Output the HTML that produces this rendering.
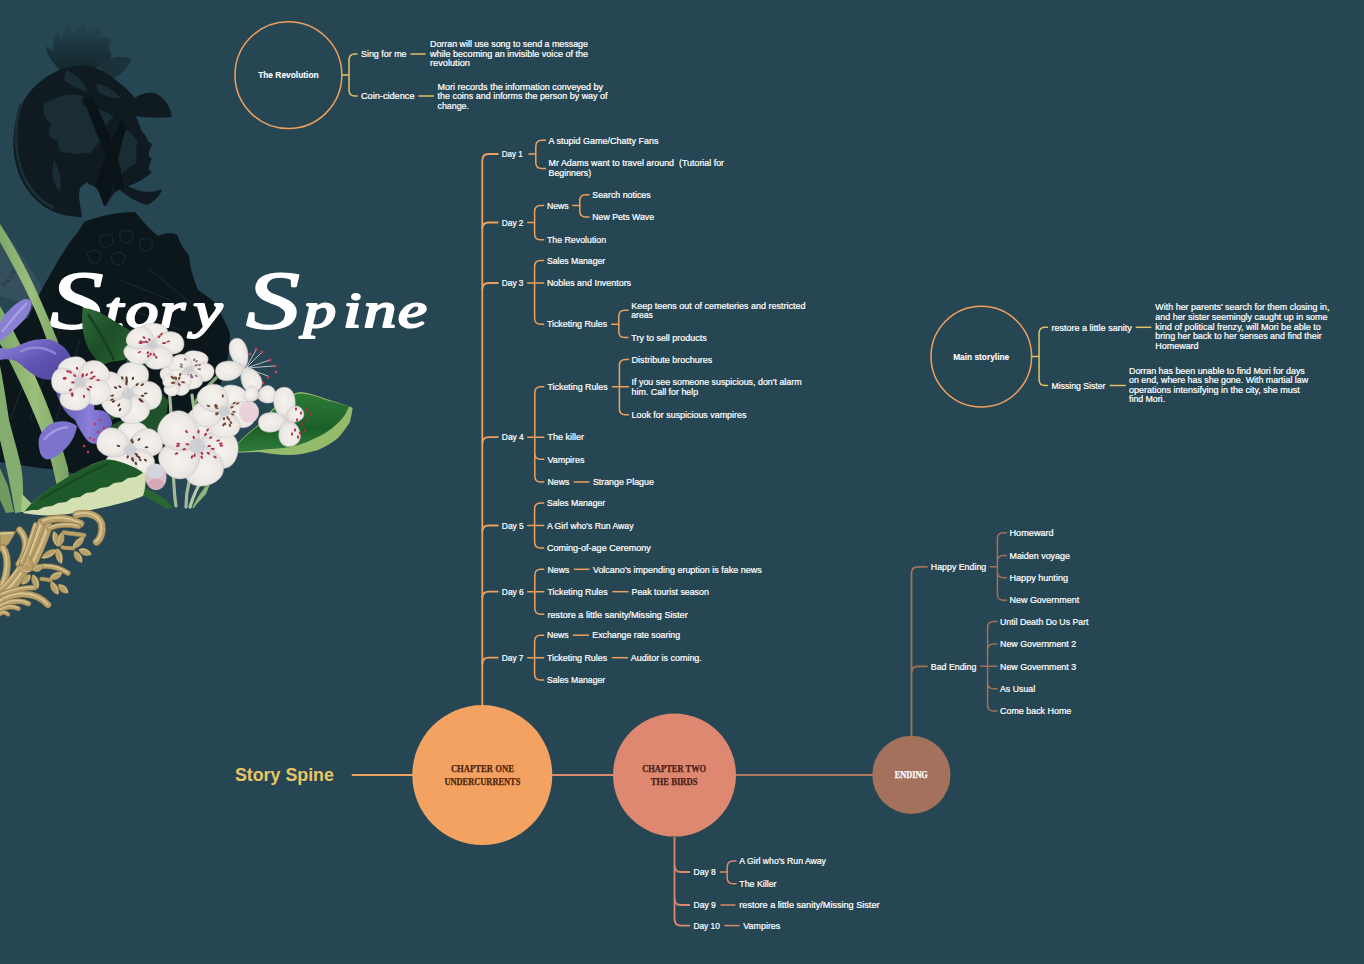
<!DOCTYPE html>
<html lang="en">
<head>
<meta charset="utf-8">
<title>Story Spine</title>
<style>
html,body{margin:0;padding:0;background:#264653;}
body{width:1364px;height:964px;overflow:hidden;font-family:"Liberation Sans",sans-serif;}
svg{display:block}
.t{font-family:"Liberation Sans",sans-serif;font-size:8.7px;fill:#fff;stroke:#fff;stroke-width:.22px;}
.b{stroke-width:.1px}
.c{font-family:"Liberation Serif",serif;font-weight:700;stroke-width:.25px}
.h{font-family:"Liberation Sans",sans-serif;font-weight:700;stroke:none}
.title{font-family:"Liberation Serif",serif;font-style:italic;fill:#fff}
</style>
</head>
<body>
<svg width="1364" height="964" viewBox="0 0 1364 964">
<rect width="1364" height="964" fill="#264653"/>
<defs><radialGradient id="pg" cx="50%" cy="40%" r="65%"><stop offset="0" stop-color="#f6f3ee"/><stop offset=".6" stop-color="#ece8e3"/><stop offset="1" stop-color="#cfcdd0"/></radialGradient><linearGradient id="lf1" x1="0" y1="0" x2="1" y2="1"><stop offset="0" stop-color="#2f6a3a"/><stop offset=".5" stop-color="#1d4f29"/><stop offset="1" stop-color="#2a6434"/></linearGradient><linearGradient id="lf2" x1="0" y1="0" x2="0" y2="1"><stop offset="0" stop-color="#2c7a36"/><stop offset=".6" stop-color="#1b5f28"/><stop offset="1" stop-color="#2f7c3a"/></linearGradient><linearGradient id="ir1" x1="0" y1="0" x2="1" y2="1"><stop offset="0" stop-color="#8f86d8"/><stop offset=".5" stop-color="#6155b5"/><stop offset="1" stop-color="#4d4299"/></linearGradient><linearGradient id="ir2" x1="0" y1="0" x2="1" y2="0"><stop offset="0" stop-color="#5e52b0"/><stop offset=".6" stop-color="#8a80d8"/><stop offset="1" stop-color="#6a5fc0"/></linearGradient><linearGradient id="bl" x1="0" y1="0" x2="1" y2="0"><stop offset="0" stop-color="#7fa86a"/><stop offset=".5" stop-color="#9bbf7c"/><stop offset="1" stop-color="#7aa264"/></linearGradient><linearGradient id="gd" x1="0" y1="0" x2="1" y2="1"><stop offset="0" stop-color="#d2bd8a"/><stop offset=".5" stop-color="#b49a64"/><stop offset="1" stop-color="#9a8250"/></linearGradient><linearGradient id="ft" x1="0" y1="0" x2="0" y2="1"><stop offset="0" stop-color="#22414c" stop-opacity=".3"/><stop offset=".5" stop-color="#1a323b" stop-opacity=".9"/><stop offset="1" stop-color="#14262d"/></linearGradient></defs>
<path d="M0 236L14 244L30 268L46 294L34 306L0 296Z" fill="#35505d"/>
<text x="5" y="287" font-family="Liberation Serif,serif" font-size="6.5" fill="#1c2f38" transform="rotate(-52 5 287)" letter-spacing=".8">FASHION</text>
<path d="M60 70C52 62 46 54 46 46L54 52C52 44 54 36 57 30L62 40C62 32 66 26 70 23L73 34C76 28 82 24 86 22L87 32C92 28 98 27 102 29L100 38C106 36 110 38 112 40L108 48C112 50 112 56 110 60C104 66 92 70 80 72Z" fill="url(#ft)"/>
<path d="M98 66C106 58 120 54 131 59C128 68 120 76 110 80Z" fill="#1b323b"/>
<path d="M66 68C50 72 34 84 24 100C14 118 11 140 15 160C19 182 32 200 50 210C60 215 72 217 82 217L79 198C78 190 82 184 88 182L96 212L101 214L112 196L118 188C126 196 140 204 148 205C156 200 161 194 162 189C150 194 138 192 128 186C136 184 146 178 152 172C146 170 150 164 152 158C146 158 150 150 152 144C146 142 148 136 142 132C140 126 138 122 136 116C146 118 160 118 172 117C170 106 164 96 154 93C146 92 140 94 135 98C130 92 124 86 118 82C112 76 100 68 88 66C80 65 72 66 66 68Z" fill="#0f1b21"/>
<g fill="#1a2d34"><path d="M44 104C56 96 72 92 84 96C78 104 86 110 92 104C98 112 108 110 114 118C104 120 110 130 100 132C104 142 94 146 90 154C82 150 76 158 70 152C62 156 56 148 58 140C48 140 46 130 52 124C44 120 42 110 44 104Z"/><path d="M96 84C104 84 114 90 120 98C112 98 104 96 98 92Z"/><path d="M54 160C60 170 62 182 60 192C54 186 50 174 54 160Z"/><path d="M118 126C126 128 134 134 138 142C134 150 138 156 136 164C128 166 124 174 118 176C116 160 114 142 118 126Z"/><path d="M66 70C76 74 84 82 88 92C80 90 72 86 64 80Z"/></g>
<path d="M21 104C14 124 14 150 22 172C28 188 40 202 54 208" stroke="#1a2e35" stroke-width="3" fill="none"/>
<path d="M84 98L92 96C100 112 112 140 120 166L124 186L116 192C112 172 104 150 96 132C92 120 86 108 84 98Z" fill="#091318"/>
<path d="M122 118L112 140C106 156 98 176 94 190L98 212L110 196C114 176 120 150 126 128Z" fill="#091318"/>
<path d="M80 188C86 182 94 184 98 190L104 206C112 208 120 212 126 214L86 222C84 210 79 198 80 188Z" fill="#2a4956"/>
<path d="M84 222C98 216 118 212 135 212C142 220 150 230 158 236C166 232 174 232 178 236C180 246 186 250 189 256C190 268 194 280 198 290C206 296 214 300 218 306C222 318 228 326 230 334C230 346 228 356 226 366L216 400L170 470L100 480L60 470L40 468L0 462L0 330C10 326 20 322 28 318C34 304 40 292 46 282C56 264 66 246 78 232Z" fill="#0c171c"/>
<g stroke="#17292f" stroke-width="1.2" fill="none"><path d="M100 236C108 232 116 236 112 244C106 250 98 246 100 236Z"/><path d="M120 232C128 228 136 232 132 240C126 246 118 242 120 232Z"/><path d="M140 240C148 236 154 240 152 248C146 254 138 250 140 240Z"/><path d="M88 252C96 248 104 252 100 260C94 266 86 262 88 252Z"/><path d="M112 254C120 250 128 254 124 262C118 268 110 264 112 254Z"/><path d="M120 280L170 300M110 300L180 330M150 270L200 310M60 330L30 420M80 340L50 440M40 340L10 420"/></g>
<text class="title" transform="scale(1.3 1)" stroke="#fff" stroke-linejoin="round"><tspan font-size="83" stroke-width="1.8" x="38" y="327.6">S</tspan><tspan font-size="50" stroke-width="2.2" y="326.6" x="80.7 96.7 122.9 148.9">tory</tspan><tspan font-size="50"> </tspan><tspan font-size="83" stroke-width="1.8" x="189.2" y="327.6">S</tspan><tspan font-size="50" stroke-width="2.2" y="326.6" x="233.5 264.1 279.9 306.1">pine</tspan></text>
<path d="M0 224C12 242 26 268 36 290C44 308 52 326 58 342L62 356L52 356C48 342 42 326 36 312C28 294 16 270 0 242Z" fill="url(#bl)"/>
<path d="M0 306C6 316 12 328 18 340C28 360 38 382 46 402C54 422 62 446 68 468L70 490L58 492C54 470 48 448 40 428C32 408 22 386 12 366C8 358 4 350 0 344Z" fill="url(#bl)"/>
<path d="M0 366C3 380 6 400 9 420C13 436 18 452 21 466C23 478 24 492 22 512L15 513C13 500 11 490 9 480C6 466 3 452 0 440Z" fill="#86ad70"/>
<path d="M0 468L8 486L14 512L6 513L0 500Z" fill="#6f9a60"/>
<path d="M22 494L32 504L24 512L21 512Z" fill="#a6c882"/>
<path d="M0 323C4 314 12 306 22 300C26 298 30 299 31.5 302C32 308 28 316 22 322C14 330 6 338 0 341Z" fill="#8a81d4"/>
<path d="M2 332C10 322 18 312 27 303" stroke="#aaa2e4" stroke-width="2" fill="none"/>
<path d="M0 348C6 349.5 12 349 20 345C28 341 36 339 46 339C56 340 64 346 68 352C72 358 74 364 73 368C70 374 64 377 56 379C48 381 40 379 34 375C28 371 22 365 16 361C10 359 4 359 0 360Z" fill="url(#ir1)"/>
<path d="M20 352C30 346 44 346 56 354" stroke="#9a91de" stroke-width="2.5" fill="none" opacity=".8"/>
<path d="M39 438C42 430 48 424 56 422C64 420 72 422 77 426C76 434 72 442 66 448C60 454 54 459 47 459.5C42 458 40 454 39.5 450C38.5 446 38.5 442 39 438Z" fill="#7c73cc"/>
<path d="M44 440C50 432 58 428 68 427" stroke="#a098e2" stroke-width="2.5" fill="none"/>
<path d="M55 388C60 394 64 400 69 404C74 407 78 408 83 408C88 405 91 400 92.6 396C94 400 94 406 94.5 410C98 410 102 410 106 412C110 415 112 420 112 424C112 430 110 436 106 440C102 443 98 444 92.6 443.6C88 442 85 438 82.7 434C80 430 77 425 75 420C70 417 66 413 63 408C60 402 56 394 55 388Z" fill="url(#ir2)"/>
<g fill="#c23a55"><circle cx="95" cy="424" r="1.3"/><circle cx="100" cy="420" r="1.3"/><circle cx="104" cy="428" r="1.3"/><circle cx="98" cy="432" r="1.3"/><circle cx="90" cy="438" r="1.3"/><circle cx="84" cy="446" r="1.3"/><circle cx="88" cy="452" r="1.3"/><circle cx="94" cy="440" r="1.3"/></g>
<path d="M82.7 307.7L90 309L98.5 311.7L108 317L118 323.5L126 328L131 331L131 355L124 360L110 362L100 366L97 361L92 354L88.6 349L85 340L82.7 329.4L82 318Z" fill="url(#lf1)"/>
<path d="M88 314C96 326 106 342 114 360" stroke="#174020" stroke-width="2.5" fill="none"/>
<path d="M128 352L140 350L146 366L150 384L160 392L168 400L166 426L156 432L140 424L124 412L112 420L106 410L118 400Z" fill="#20522b"/>
<path d="M110 426L122 420L130 428L118 436Z" fill="#20522b"/>
<path d="M229.5 453C238 442 248 432 259 424.6C266 416 272 409 279 403C286 397 293 393 300.5 392C310 393 318 396 326 399C336 402 346 405 352.7 407.8C352 413 351 418 349.7 422.6C346 428 342 434 338 438C332 443 325 447 318 450C308 453 298 455 288.6 455C278 455 268 453 259 452C249 452 239 453 229.5 453Z" fill="#94bb6a"/>
<path d="M231 452C240 441 249 432 260 425C267 417 273 410 280 404C287 398.5 294 394 300.5 393.5C310 394 318 397 326 400C334 402 342 404 349 406.5C347 412 344 417 340 421C334 427 328 432 320 436C310 441 300 445 290 447C280 448.5 270 449 260 450C250 451 240 452 231 452Z" fill="url(#lf2)"/>
<g stroke="#a5bb98" stroke-width="3.2" fill="none" stroke-linecap="round"><path d="M173 470C174 482 174 494 176 506"/><path d="M189 482C187 490 186 498 186 507"/><path d="M204 476C198 486 193 496 190 507" stroke="#b5c8a6"/><path d="M169 389C170 398 171 408 171 418"/><path d="M192 395C193 402 194 410 195 416"/><path d="M216 378C208 386 200 394 195 403" stroke="#86a878"/></g>
<path d="M231 452C222 462 212 476 204 490C200 496 196 502 193 508" stroke="#6f9a5c" stroke-width="2.2" fill="none"/>
<path d="M193 508C196 498 202 490 210 484L206 494Z" fill="#8db57a"/>
<path d="M132 486C144 486 156 492 166 500C170 503 172 506 173 508L166 509C158 503 148 498 140 494C136 492 134 489 132 486Z" fill="#2a6632"/>
<g transform="translate(197 446) scale(1 0.95)"><path d="M0 0C14.2 -2.1 25.4 -22.7 17.3 -35.1C11.2 -44.6 -10.2 -45.4 -17.3 -33.9C-25.4 -20.6 -14.2 -2.1 0 0Z" fill="url(#pg)" stroke="#cbc6c6" stroke-width=".5" transform="rotate(19)"/><path d="M0 0C14.2 -2.0 25.4 -22.2 17.3 -34.3C11.2 -43.6 -10.2 -44.4 -17.3 -33.1C-25.4 -20.2 -14.2 -2.0 0 0Z" fill="url(#pg)" stroke="#cbc6c6" stroke-width=".5" transform="rotate(99)"/><path d="M0 0C14.2 -2.1 25.4 -22.9 17.3 -35.3C11.2 -44.9 -10.2 -45.7 -17.3 -34.1C-25.4 -20.8 -14.2 -2.1 0 0Z" fill="url(#pg)" stroke="#cbc6c6" stroke-width=".5" transform="rotate(164)"/><path d="M0 0C14.2 -2.0 25.4 -22.4 17.3 -34.7C11.2 -44.1 -10.2 -44.9 -17.3 -33.5C-25.4 -20.4 -14.2 -2.0 0 0Z" fill="url(#pg)" stroke="#cbc6c6" stroke-width=".5" transform="rotate(231)"/><path d="M0 0C14.2 -2.2 25.4 -24.0 17.3 -37.0C11.2 -47.0 -10.2 -47.9 -17.3 -35.7C-25.4 -21.8 -14.2 -2.2 0 0Z" fill="url(#pg)" stroke="#cbc6c6" stroke-width=".5" transform="rotate(310)"/><circle r="8.1" fill="#c9ccd2" opacity=".7"/><ellipse cx="11.3" cy="7.6" rx="1.1" ry="1.9" fill="#b32d4b" transform="rotate(124 11.3 7.6)"/><ellipse cx="18.1" cy="11.6" rx="1.1" ry="1.9" fill="#b32d4b" transform="rotate(123 18.1 11.6)"/><ellipse cx="-3.3" cy="-9.0" rx="1.1" ry="1.9" fill="#b32d4b" transform="rotate(340 -3.3 -9.0)"/><ellipse cx="23.7" cy="-2.7" rx="1.1" ry="1.9" fill="#b32d4b" transform="rotate(444 23.7 -2.7)"/><ellipse cx="-10.5" cy="-15.2" rx="1.1" ry="1.9" fill="#b32d4b" transform="rotate(325 -10.5 -15.2)"/><ellipse cx="5.0" cy="7.7" rx="1.1" ry="1.9" fill="#b32d4b" transform="rotate(147 5.0 7.7)"/><ellipse cx="-9.7" cy="-1.8" rx="1.1" ry="1.9" fill="#b32d4b" transform="rotate(280 -9.7 -1.8)"/><ellipse cx="4.7" cy="11.8" rx="1.1" ry="1.9" fill="#b32d4b" transform="rotate(158 4.7 11.8)"/><ellipse cx="15.8" cy="3.0" rx="1.1" ry="1.9" fill="#b32d4b" transform="rotate(101 15.8 3.0)"/><ellipse cx="-20.5" cy="8.0" rx="1.1" ry="1.9" fill="#b32d4b" transform="rotate(249 -20.5 8.0)"/><ellipse cx="-18.7" cy="-2.3" rx="1.1" ry="1.9" fill="#b32d4b" transform="rotate(277 -18.7 -2.3)"/><ellipse cx="-19.2" cy="0.0" rx="1.1" ry="1.9" fill="#b32d4b" transform="rotate(270 -19.2 0.0)"/><ellipse cx="-12.8" cy="3.5" rx="1.1" ry="1.9" fill="#b32d4b" transform="rotate(255 -12.8 3.5)"/><ellipse cx="24.4" cy="-0.4" rx="1.1" ry="1.9" fill="#b32d4b" transform="rotate(449 24.4 -0.4)"/><ellipse cx="10.7" cy="-16.8" rx="1.1" ry="1.9" fill="#b32d4b" transform="rotate(392 10.7 -16.8)"/><ellipse cx="-5.0" cy="11.5" rx="1.1" ry="1.9" fill="#b32d4b" transform="rotate(203 -5.0 11.5)"/><ellipse cx="-2.4" cy="9.7" rx="1.1" ry="1.9" fill="#b32d4b" transform="rotate(194 -2.4 9.7)"/><ellipse cx="1.5" cy="-15.1" rx="1.1" ry="1.9" fill="#b32d4b" transform="rotate(366 1.5 -15.1)"/><ellipse cx="8.5" cy="-12.3" rx="1.1" ry="1.9" fill="#b32d4b" transform="rotate(395 8.5 -12.3)"/><ellipse cx="21.3" cy="-5.7" rx="1.1" ry="1.9" fill="#b32d4b" transform="rotate(435 21.3 -5.7)"/><ellipse cx="12.2" cy="0.0" rx="1.1" ry="1.9" fill="#b32d4b" transform="rotate(90 12.2 0.0)"/><ellipse cx="13.7" cy="-8.7" rx="1.1" ry="1.9" fill="#b32d4b" transform="rotate(418 13.7 -8.7)"/></g>
<g transform="translate(130 450) scale(1 0.9)"><path d="M0 0C11.2 -1.6 19.9 -17.1 13.6 -26.4C8.8 -33.6 -8.0 -34.2 -13.6 -25.5C-19.9 -15.6 -11.2 -1.6 0 0Z" fill="url(#pg)" stroke="#cbc6c6" stroke-width=".5" transform="rotate(8)"/><path d="M0 0C11.2 -1.6 19.9 -18.1 13.6 -28.0C8.8 -35.5 -8.0 -36.2 -13.6 -27.0C-19.9 -16.4 -11.2 -1.6 0 0Z" fill="url(#pg)" stroke="#cbc6c6" stroke-width=".5" transform="rotate(65)"/><path d="M0 0C11.2 -1.5 19.9 -16.6 13.6 -25.6C8.8 -32.5 -8.0 -33.2 -13.6 -24.7C-19.9 -15.1 -11.2 -1.5 0 0Z" fill="url(#pg)" stroke="#cbc6c6" stroke-width=".5" transform="rotate(148)"/><path d="M0 0C11.2 -1.5 19.9 -16.8 13.6 -26.0C8.8 -33.1 -8.0 -33.7 -13.6 -25.1C-19.9 -15.3 -11.2 -1.5 0 0Z" fill="url(#pg)" stroke="#cbc6c6" stroke-width=".5" transform="rotate(209)"/><path d="M0 0C11.2 -1.7 19.9 -18.6 13.6 -28.8C8.8 -36.6 -8.0 -37.3 -13.6 -27.8C-19.9 -16.9 -11.2 -1.7 0 0Z" fill="url(#pg)" stroke="#cbc6c6" stroke-width=".5" transform="rotate(295)"/><circle r="6.4" fill="#c9ccd2" opacity=".7"/><ellipse cx="7.4" cy="6.8" rx="1.1" ry="1.9" fill="#5e3a30" transform="rotate(132 7.4 6.8)"/><ellipse cx="6.2" cy="4.6" rx="1.1" ry="1.9" fill="#5e3a30" transform="rotate(126 6.2 4.6)"/><ellipse cx="2.7" cy="-8.8" rx="1.1" ry="1.9" fill="#5e3a30" transform="rotate(377 2.7 -8.8)"/><ellipse cx="-11.6" cy="-4.5" rx="1.1" ry="1.9" fill="#5e3a30" transform="rotate(291 -11.6 -4.5)"/><ellipse cx="5.8" cy="14.8" rx="1.1" ry="1.9" fill="#5e3a30" transform="rotate(159 5.8 14.8)"/><ellipse cx="10.1" cy="10.9" rx="1.1" ry="1.9" fill="#5e3a30" transform="rotate(137 10.1 10.9)"/><ellipse cx="9.0" cy="8.1" rx="1.1" ry="1.9" fill="#5e3a30" transform="rotate(132 9.0 8.1)"/><ellipse cx="2.4" cy="10.0" rx="1.1" ry="1.9" fill="#5e3a30" transform="rotate(167 2.4 10.0)"/><ellipse cx="16.5" cy="-3.0" rx="1.1" ry="1.9" fill="#5e3a30" transform="rotate(440 16.5 -3.0)"/><ellipse cx="-5.9" cy="16.7" rx="1.1" ry="1.9" fill="#5e3a30" transform="rotate(199 -5.9 16.7)"/><ellipse cx="2.9" cy="11.4" rx="1.1" ry="1.9" fill="#5e3a30" transform="rotate(166 2.9 11.4)"/><ellipse cx="9.0" cy="-11.7" rx="1.1" ry="1.9" fill="#5e3a30" transform="rotate(398 9.0 -11.7)"/><ellipse cx="15.4" cy="11.2" rx="1.1" ry="1.9" fill="#5e3a30" transform="rotate(126 15.4 11.2)"/><ellipse cx="2.3" cy="9.9" rx="1.1" ry="1.9" fill="#5e3a30" transform="rotate(167 2.3 9.9)"/><ellipse cx="1.6" cy="-10.9" rx="1.1" ry="1.9" fill="#5e3a30" transform="rotate(368 1.6 -10.9)"/><ellipse cx="-2.3" cy="7.6" rx="1.1" ry="1.9" fill="#5e3a30" transform="rotate(197 -2.3 7.6)"/></g>
<g transform="translate(224 411) scale(1 0.85)"><path d="M0 0C10.8 -1.6 19.3 -17.3 13.1 -26.7C8.5 -33.9 -7.7 -34.6 -13.1 -25.8C-19.3 -15.7 -10.8 -1.6 0 0Z" fill="url(#pg)" stroke="#cbc6c6" stroke-width=".5" transform="rotate(28)"/><path d="M0 0C10.8 -1.6 19.3 -17.4 13.1 -26.8C8.5 -34.1 -7.7 -34.7 -13.1 -25.9C-19.3 -15.8 -10.8 -1.6 0 0Z" fill="url(#pg)" stroke="#cbc6c6" stroke-width=".5" transform="rotate(103)"/><path d="M0 0C10.8 -1.5 19.3 -16.7 13.1 -25.9C8.5 -32.9 -7.7 -33.5 -13.1 -25.0C-19.3 -15.2 -10.8 -1.5 0 0Z" fill="url(#pg)" stroke="#cbc6c6" stroke-width=".5" transform="rotate(177)"/><path d="M0 0C10.8 -1.5 19.3 -16.9 13.1 -26.1C8.5 -33.1 -7.7 -33.7 -13.1 -25.2C-19.3 -15.3 -10.8 -1.5 0 0Z" fill="url(#pg)" stroke="#cbc6c6" stroke-width=".5" transform="rotate(258)"/><path d="M0 0C10.8 -1.7 19.3 -18.4 13.1 -28.5C8.5 -36.2 -7.7 -36.9 -13.1 -27.5C-19.3 -16.8 -10.8 -1.7 0 0Z" fill="url(#pg)" stroke="#cbc6c6" stroke-width=".5" transform="rotate(324)"/><circle r="6.2" fill="#c9ccd2" opacity=".7"/><ellipse cx="3.5" cy="7.8" rx="1.1" ry="1.9" fill="#7a4a36" transform="rotate(156 3.5 7.8)"/><ellipse cx="13.7" cy="-8.9" rx="1.1" ry="1.9" fill="#7a4a36" transform="rotate(417 13.7 -8.9)"/><ellipse cx="0.0" cy="9.0" rx="1.1" ry="1.9" fill="#7a4a36" transform="rotate(180 0.0 9.0)"/><ellipse cx="-1.2" cy="-17.7" rx="1.1" ry="1.9" fill="#7a4a36" transform="rotate(356 -1.2 -17.7)"/><ellipse cx="5.9" cy="16.9" rx="1.1" ry="1.9" fill="#7a4a36" transform="rotate(161 5.9 16.9)"/><ellipse cx="10.2" cy="-9.3" rx="1.1" ry="1.9" fill="#7a4a36" transform="rotate(408 10.2 -9.3)"/><ellipse cx="-7.0" cy="3.8" rx="1.1" ry="1.9" fill="#7a4a36" transform="rotate(242 -7.0 3.8)"/><ellipse cx="17.5" cy="4.3" rx="1.1" ry="1.9" fill="#7a4a36" transform="rotate(104 17.5 4.3)"/><ellipse cx="1.1" cy="15.0" rx="1.1" ry="1.9" fill="#7a4a36" transform="rotate(176 1.1 15.0)"/><ellipse cx="-0.7" cy="16.4" rx="1.1" ry="1.9" fill="#7a4a36" transform="rotate(183 -0.7 16.4)"/><ellipse cx="-8.4" cy="-5.8" rx="1.1" ry="1.9" fill="#7a4a36" transform="rotate(305 -8.4 -5.8)"/><ellipse cx="6.9" cy="13.6" rx="1.1" ry="1.9" fill="#7a4a36" transform="rotate(153 6.9 13.6)"/><ellipse cx="8.6" cy="4.0" rx="1.1" ry="1.9" fill="#7a4a36" transform="rotate(115 8.6 4.0)"/><ellipse cx="-15.6" cy="-6.1" rx="1.1" ry="1.9" fill="#7a4a36" transform="rotate(291 -15.6 -6.1)"/><ellipse cx="-7.6" cy="-6.6" rx="1.1" ry="1.9" fill="#7a4a36" transform="rotate(311 -7.6 -6.6)"/><ellipse cx="8.0" cy="-4.5" rx="1.1" ry="1.9" fill="#7a4a36" transform="rotate(420 8.0 -4.5)"/><ellipse cx="9.9" cy="1.0" rx="1.1" ry="1.9" fill="#7a4a36" transform="rotate(96 9.9 1.0)"/><ellipse cx="-7.1" cy="2.5" rx="1.1" ry="1.9" fill="#7a4a36" transform="rotate(250 -7.1 2.5)"/><ellipse cx="5.0" cy="9.9" rx="1.1" ry="1.9" fill="#7a4a36" transform="rotate(153 5.0 9.9)"/><ellipse cx="-7.5" cy="-3.6" rx="1.1" ry="1.9" fill="#7a4a36" transform="rotate(296 -7.5 -3.6)"/></g>
<ellipse cx="249" cy="412" rx="10" ry="11" fill="#ead3d8"/>
<g transform="translate(128 394) scale(1 0.9)"><path d="M0 0C11.2 -1.7 19.9 -19.2 13.6 -29.7C8.8 -37.7 -8.0 -38.4 -13.6 -28.6C-19.9 -17.4 -11.2 -1.7 0 0Z" fill="url(#pg)" stroke="#cbc6c6" stroke-width=".5" transform="rotate(13)"/><path d="M0 0C11.2 -1.7 19.9 -18.2 13.6 -28.1C8.8 -35.7 -8.0 -36.4 -13.6 -27.1C-19.9 -16.6 -11.2 -1.7 0 0Z" fill="url(#pg)" stroke="#cbc6c6" stroke-width=".5" transform="rotate(95)"/><path d="M0 0C11.2 -1.6 19.9 -17.9 13.6 -27.7C8.8 -35.2 -8.0 -35.8 -13.6 -26.7C-19.9 -16.3 -11.2 -1.6 0 0Z" fill="url(#pg)" stroke="#cbc6c6" stroke-width=".5" transform="rotate(162)"/><path d="M0 0C11.2 -1.4 19.9 -15.6 13.6 -24.1C8.8 -30.6 -8.0 -31.2 -13.6 -23.2C-19.9 -14.2 -11.2 -1.4 0 0Z" fill="url(#pg)" stroke="#cbc6c6" stroke-width=".5" transform="rotate(225)"/><path d="M0 0C11.2 -1.8 19.9 -19.3 13.6 -29.8C8.8 -37.8 -8.0 -38.5 -13.6 -28.7C-19.9 -17.5 -11.2 -1.8 0 0Z" fill="url(#pg)" stroke="#cbc6c6" stroke-width=".5" transform="rotate(295)"/><circle r="6.4" fill="#c9ccd2" opacity=".7"/><ellipse cx="-5.7" cy="-17.8" rx="1.1" ry="1.9" fill="#5a352c" transform="rotate(342 -5.7 -17.8)"/><ellipse cx="14.6" cy="2.0" rx="1.1" ry="1.9" fill="#5a352c" transform="rotate(98 14.6 2.0)"/><ellipse cx="-15.8" cy="1.8" rx="1.1" ry="1.9" fill="#5a352c" transform="rotate(264 -15.8 1.8)"/><ellipse cx="-8.0" cy="17.4" rx="1.1" ry="1.9" fill="#5a352c" transform="rotate(205 -8.0 17.4)"/><ellipse cx="12.1" cy="6.2" rx="1.1" ry="1.9" fill="#5a352c" transform="rotate(117 12.1 6.2)"/><ellipse cx="-1.5" cy="-17.9" rx="1.1" ry="1.9" fill="#5a352c" transform="rotate(355 -1.5 -17.9)"/><ellipse cx="-1.3" cy="-15.5" rx="1.1" ry="1.9" fill="#5a352c" transform="rotate(355 -1.3 -15.5)"/><ellipse cx="4.9" cy="-17.4" rx="1.1" ry="1.9" fill="#5a352c" transform="rotate(376 4.9 -17.4)"/><ellipse cx="-9.1" cy="12.3" rx="1.1" ry="1.9" fill="#5a352c" transform="rotate(217 -9.1 12.3)"/><ellipse cx="14.3" cy="-10.3" rx="1.1" ry="1.9" fill="#5a352c" transform="rotate(414 14.3 -10.3)"/><ellipse cx="-14.4" cy="8.3" rx="1.1" ry="1.9" fill="#5a352c" transform="rotate(240 -14.4 8.3)"/><ellipse cx="9.1" cy="-10.6" rx="1.1" ry="1.9" fill="#5a352c" transform="rotate(401 9.1 -10.6)"/><ellipse cx="-8.2" cy="-8.2" rx="1.1" ry="1.9" fill="#5a352c" transform="rotate(315 -8.2 -8.2)"/><ellipse cx="-12.5" cy="-7.1" rx="1.1" ry="1.9" fill="#5a352c" transform="rotate(300 -12.5 -7.1)"/><ellipse cx="12.9" cy="7.1" rx="1.1" ry="1.9" fill="#5a352c" transform="rotate(119 12.9 7.1)"/><ellipse cx="17.7" cy="-0.7" rx="1.1" ry="1.9" fill="#5a352c" transform="rotate(448 17.7 -0.7)"/><ellipse cx="-1.6" cy="-11.6" rx="1.1" ry="1.9" fill="#5a352c" transform="rotate(352 -1.6 -11.6)"/><ellipse cx="-1.3" cy="-14.0" rx="1.1" ry="1.9" fill="#5a352c" transform="rotate(355 -1.3 -14.0)"/><ellipse cx="-16.0" cy="6.3" rx="1.1" ry="1.9" fill="#5a352c" transform="rotate(249 -16.0 6.3)"/><ellipse cx="13.9" cy="8.1" rx="1.1" ry="1.9" fill="#5a352c" transform="rotate(120 13.9 8.1)"/></g>
<g transform="translate(189 370) scale(1 0.72)"><path d="M0 0C9.2 -1.4 16.5 -14.9 11.2 -23.0C7.3 -29.2 -6.6 -29.7 -11.2 -22.2C-16.5 -13.5 -9.2 -1.4 0 0Z" fill="url(#pg)" stroke="#cbc6c6" stroke-width=".5" transform="rotate(22)"/><path d="M0 0C9.2 -1.2 16.5 -13.6 11.2 -21.0C7.3 -26.7 -6.6 -27.2 -11.2 -20.2C-16.5 -12.3 -9.2 -1.2 0 0Z" fill="url(#pg)" stroke="#cbc6c6" stroke-width=".5" transform="rotate(102)"/><path d="M0 0C9.2 -1.3 16.5 -14.5 11.2 -22.4C7.3 -28.5 -6.6 -29.0 -11.2 -21.6C-16.5 -13.2 -9.2 -1.3 0 0Z" fill="url(#pg)" stroke="#cbc6c6" stroke-width=".5" transform="rotate(177)"/><path d="M0 0C9.2 -1.5 16.5 -16.0 11.2 -24.7C7.3 -31.4 -6.6 -32.0 -11.2 -23.8C-16.5 -14.5 -9.2 -1.5 0 0Z" fill="url(#pg)" stroke="#cbc6c6" stroke-width=".5" transform="rotate(248)"/><path d="M0 0C9.2 -1.2 16.5 -12.8 11.2 -19.8C7.3 -25.2 -6.6 -25.6 -11.2 -19.1C-16.5 -11.7 -9.2 -1.2 0 0Z" fill="url(#pg)" stroke="#cbc6c6" stroke-width=".5" transform="rotate(314)"/><circle r="5.3" fill="#c9ccd2" opacity=".7"/><ellipse cx="-4.0" cy="12.0" rx="1.1" ry="1.9" fill="#8a6a84" transform="rotate(198 -4.0 12.0)"/><ellipse cx="2.2" cy="7.2" rx="1.1" ry="1.9" fill="#8a6a84" transform="rotate(163 2.2 7.2)"/><ellipse cx="10.3" cy="-6.9" rx="1.1" ry="1.9" fill="#8a6a84" transform="rotate(416 10.3 -6.9)"/><ellipse cx="-13.8" cy="5.3" rx="1.1" ry="1.9" fill="#8a6a84" transform="rotate(249 -13.8 5.3)"/><ellipse cx="-5.8" cy="11.1" rx="1.1" ry="1.9" fill="#8a6a84" transform="rotate(208 -5.8 11.1)"/><ellipse cx="3.2" cy="9.6" rx="1.1" ry="1.9" fill="#8a6a84" transform="rotate(161 3.2 9.6)"/><ellipse cx="5.2" cy="-14.1" rx="1.1" ry="1.9" fill="#8a6a84" transform="rotate(380 5.2 -14.1)"/><ellipse cx="7.1" cy="-6.6" rx="1.1" ry="1.9" fill="#8a6a84" transform="rotate(407 7.1 -6.6)"/><ellipse cx="-7.8" cy="-4.5" rx="1.1" ry="1.9" fill="#8a6a84" transform="rotate(300 -7.8 -4.5)"/><ellipse cx="7.1" cy="8.1" rx="1.1" ry="1.9" fill="#8a6a84" transform="rotate(139 7.1 8.1)"/><ellipse cx="7.5" cy="-12.2" rx="1.1" ry="1.9" fill="#8a6a84" transform="rotate(391 7.5 -12.2)"/><ellipse cx="-3.7" cy="-14.9" rx="1.1" ry="1.9" fill="#8a6a84" transform="rotate(346 -3.7 -14.9)"/><ellipse cx="-1.3" cy="7.4" rx="1.1" ry="1.9" fill="#8a6a84" transform="rotate(190 -1.3 7.4)"/><ellipse cx="-8.2" cy="2.6" rx="1.1" ry="1.9" fill="#8a6a84" transform="rotate(252 -8.2 2.6)"/><ellipse cx="2.2" cy="9.7" rx="1.1" ry="1.9" fill="#8a6a84" transform="rotate(167 2.2 9.7)"/><ellipse cx="-7.6" cy="-7.6" rx="1.1" ry="1.9" fill="#8a6a84" transform="rotate(315 -7.6 -7.6)"/><ellipse cx="-5.7" cy="13.0" rx="1.1" ry="1.9" fill="#8a6a84" transform="rotate(204 -5.7 13.0)"/><ellipse cx="10.3" cy="-1.2" rx="1.1" ry="1.9" fill="#8a6a84" transform="rotate(444 10.3 -1.2)"/></g>
<g transform="translate(177 382) scale(1 0.9)"><path d="M0 0C5.4 -0.7 9.6 -7.5 6.5 -11.6C4.2 -14.8 -3.9 -15.0 -6.5 -11.2C-9.6 -6.8 -5.4 -0.7 0 0Z" fill="url(#pg)" stroke="#cbc6c6" stroke-width=".5" transform="rotate(-7)"/><path d="M0 0C5.4 -0.7 9.6 -7.5 6.5 -11.6C4.2 -14.8 -3.9 -15.1 -6.5 -11.2C-9.6 -6.9 -5.4 -0.7 0 0Z" fill="url(#pg)" stroke="#cbc6c6" stroke-width=".5" transform="rotate(78)"/><path d="M0 0C5.4 -0.8 9.6 -8.6 6.5 -13.3C4.2 -16.9 -3.9 -17.2 -6.5 -12.8C-9.6 -7.8 -5.4 -0.8 0 0Z" fill="url(#pg)" stroke="#cbc6c6" stroke-width=".5" transform="rotate(147)"/><path d="M0 0C5.4 -0.8 9.6 -9.1 6.5 -14.0C4.2 -17.8 -3.9 -18.1 -6.5 -13.5C-9.6 -8.2 -5.4 -0.8 0 0Z" fill="url(#pg)" stroke="#cbc6c6" stroke-width=".5" transform="rotate(213)"/><path d="M0 0C5.4 -0.7 9.6 -7.7 6.5 -11.9C4.2 -15.2 -3.9 -15.5 -6.5 -11.5C-9.6 -7.0 -5.4 -0.7 0 0Z" fill="url(#pg)" stroke="#cbc6c6" stroke-width=".5" transform="rotate(280)"/><circle r="3.1" fill="#c9ccd2" opacity=".7"/><ellipse cx="-3.4" cy="1.0" rx="1.1" ry="1.9" fill="#7a4a36" transform="rotate(254 -3.4 1.0)"/><ellipse cx="2.3" cy="-4.2" rx="1.1" ry="1.9" fill="#7a4a36" transform="rotate(389 2.3 -4.2)"/><ellipse cx="2.3" cy="2.8" rx="1.1" ry="1.9" fill="#7a4a36" transform="rotate(141 2.3 2.8)"/><ellipse cx="-4.1" cy="-4.4" rx="1.1" ry="1.9" fill="#7a4a36" transform="rotate(317 -4.1 -4.4)"/><ellipse cx="-4.9" cy="-5.3" rx="1.1" ry="1.9" fill="#7a4a36" transform="rotate(317 -4.9 -5.3)"/><ellipse cx="3.2" cy="-8.4" rx="1.1" ry="1.9" fill="#7a4a36" transform="rotate(381 3.2 -8.4)"/><ellipse cx="-1.8" cy="-4.2" rx="1.1" ry="1.9" fill="#7a4a36" transform="rotate(336 -1.8 -4.2)"/><ellipse cx="-4.4" cy="0.7" rx="1.1" ry="1.9" fill="#7a4a36" transform="rotate(261 -4.4 0.7)"/><ellipse cx="6.1" cy="0.4" rx="1.1" ry="1.9" fill="#7a4a36" transform="rotate(94 6.1 0.4)"/><ellipse cx="-1.0" cy="-4.3" rx="1.1" ry="1.9" fill="#7a4a36" transform="rotate(347 -1.0 -4.3)"/></g>
<g transform="translate(80 382) scale(1 0.85)"><path d="M0 0C10.8 -1.5 19.3 -16.3 13.1 -25.2C8.5 -32.0 -7.7 -32.6 -13.1 -24.3C-19.3 -14.8 -10.8 -1.5 0 0Z" fill="url(#pg)" stroke="#cbc6c6" stroke-width=".5" transform="rotate(-24)"/><path d="M0 0C10.8 -1.5 19.3 -17.0 13.1 -26.3C8.5 -33.4 -7.7 -34.0 -13.1 -25.4C-19.3 -15.5 -10.8 -1.5 0 0Z" fill="url(#pg)" stroke="#cbc6c6" stroke-width=".5" transform="rotate(55)"/><path d="M0 0C10.8 -1.6 19.3 -18.0 13.1 -27.8C8.5 -35.3 -7.7 -36.0 -13.1 -26.8C-19.3 -16.3 -10.8 -1.6 0 0Z" fill="url(#pg)" stroke="#cbc6c6" stroke-width=".5" transform="rotate(126)"/><path d="M0 0C10.8 -1.6 19.3 -18.1 13.1 -28.0C8.5 -35.6 -7.7 -36.3 -13.1 -27.0C-19.3 -16.5 -10.8 -1.6 0 0Z" fill="url(#pg)" stroke="#cbc6c6" stroke-width=".5" transform="rotate(194)"/><path d="M0 0C10.8 -1.4 19.3 -15.3 13.1 -23.6C8.5 -30.0 -7.7 -30.5 -13.1 -22.8C-19.3 -13.9 -10.8 -1.4 0 0Z" fill="url(#pg)" stroke="#cbc6c6" stroke-width=".5" transform="rotate(274)"/><circle r="6.2" fill="#c9ccd2" opacity=".7"/><ellipse cx="13.9" cy="-6.3" rx="1.1" ry="1.9" fill="#b32d4b" transform="rotate(426 13.9 -6.3)"/><ellipse cx="8.3" cy="8.8" rx="1.1" ry="1.9" fill="#b32d4b" transform="rotate(137 8.3 8.8)"/><ellipse cx="-12.3" cy="-12.4" rx="1.1" ry="1.9" fill="#b32d4b" transform="rotate(315 -12.3 -12.4)"/><ellipse cx="-9.6" cy="9.4" rx="1.1" ry="1.9" fill="#b32d4b" transform="rotate(226 -9.6 9.4)"/><ellipse cx="11.7" cy="-11.1" rx="1.1" ry="1.9" fill="#b32d4b" transform="rotate(407 11.7 -11.1)"/><ellipse cx="11.5" cy="-4.2" rx="1.1" ry="1.9" fill="#b32d4b" transform="rotate(430 11.5 -4.2)"/><ellipse cx="-5.3" cy="-7.5" rx="1.1" ry="1.9" fill="#b32d4b" transform="rotate(324 -5.3 -7.5)"/><ellipse cx="-2.9" cy="-16.1" rx="1.1" ry="1.9" fill="#b32d4b" transform="rotate(350 -2.9 -16.1)"/><ellipse cx="-9.6" cy="-11.8" rx="1.1" ry="1.9" fill="#b32d4b" transform="rotate(321 -9.6 -11.8)"/><ellipse cx="4.0" cy="16.9" rx="1.1" ry="1.9" fill="#b32d4b" transform="rotate(167 4.0 16.9)"/><ellipse cx="18.1" cy="-2.2" rx="1.1" ry="1.9" fill="#b32d4b" transform="rotate(443 18.1 -2.2)"/><ellipse cx="-15.6" cy="-3.7" rx="1.1" ry="1.9" fill="#b32d4b" transform="rotate(283 -15.6 -3.7)"/><ellipse cx="-7.5" cy="15.7" rx="1.1" ry="1.9" fill="#b32d4b" transform="rotate(205 -7.5 15.7)"/><ellipse cx="6.7" cy="-8.5" rx="1.1" ry="1.9" fill="#b32d4b" transform="rotate(398 6.7 -8.5)"/><ellipse cx="10.4" cy="5.9" rx="1.1" ry="1.9" fill="#b32d4b" transform="rotate(120 10.4 5.9)"/><ellipse cx="-15.0" cy="-4.9" rx="1.1" ry="1.9" fill="#b32d4b" transform="rotate(288 -15.0 -4.9)"/><ellipse cx="-7.1" cy="0.6" rx="1.1" ry="1.9" fill="#b32d4b" transform="rotate(265 -7.1 0.6)"/><ellipse cx="2.7" cy="-7.0" rx="1.1" ry="1.9" fill="#b32d4b" transform="rotate(381 2.7 -7.0)"/><ellipse cx="2.7" cy="-8.4" rx="1.1" ry="1.9" fill="#b32d4b" transform="rotate(378 2.7 -8.4)"/><ellipse cx="-8.1" cy="13.8" rx="1.1" ry="1.9" fill="#b32d4b" transform="rotate(211 -8.1 13.8)"/></g>
<g transform="translate(152 345) scale(1 0.78)"><path d="M0 0C10.4 -1.4 18.6 -15.0 12.6 -23.1C8.2 -29.4 -7.4 -29.9 -12.6 -22.3C-18.6 -13.6 -10.4 -1.4 0 0Z" fill="url(#pg)" stroke="#cbc6c6" stroke-width=".5" transform="rotate(4)"/><path d="M0 0C10.4 -1.6 18.6 -17.2 12.6 -26.6C8.2 -33.8 -7.4 -34.4 -12.6 -25.7C-18.6 -15.6 -10.4 -1.6 0 0Z" fill="url(#pg)" stroke="#cbc6c6" stroke-width=".5" transform="rotate(82)"/><path d="M0 0C10.4 -1.6 18.6 -17.1 12.6 -26.4C8.2 -33.5 -7.4 -34.2 -12.6 -25.5C-18.6 -15.5 -10.4 -1.6 0 0Z" fill="url(#pg)" stroke="#cbc6c6" stroke-width=".5" transform="rotate(159)"/><path d="M0 0C10.4 -1.5 18.6 -16.3 12.6 -25.2C8.2 -32.0 -7.4 -32.6 -12.6 -24.3C-18.6 -14.8 -10.4 -1.5 0 0Z" fill="url(#pg)" stroke="#cbc6c6" stroke-width=".5" transform="rotate(233)"/><path d="M0 0C10.4 -1.3 18.6 -14.7 12.6 -22.7C8.2 -28.9 -7.4 -29.4 -12.6 -21.9C-18.6 -13.4 -10.4 -1.3 0 0Z" fill="url(#pg)" stroke="#cbc6c6" stroke-width=".5" transform="rotate(305)"/><circle r="5.9" fill="#c9ccd2" opacity=".7"/><ellipse cx="2.2" cy="12.3" rx="1.1" ry="1.9" fill="#b32d4b" transform="rotate(170 2.2 12.3)"/><ellipse cx="-3.7" cy="14.3" rx="1.1" ry="1.9" fill="#b32d4b" transform="rotate(194 -3.7 14.3)"/><ellipse cx="-8.0" cy="-9.5" rx="1.1" ry="1.9" fill="#b32d4b" transform="rotate(320 -8.0 -9.5)"/><ellipse cx="7.1" cy="-10.7" rx="1.1" ry="1.9" fill="#b32d4b" transform="rotate(394 7.1 -10.7)"/><ellipse cx="-4.1" cy="10.0" rx="1.1" ry="1.9" fill="#b32d4b" transform="rotate(202 -4.1 10.0)"/><ellipse cx="9.4" cy="-13.8" rx="1.1" ry="1.9" fill="#b32d4b" transform="rotate(394 9.4 -13.8)"/><ellipse cx="4.2" cy="15.6" rx="1.1" ry="1.9" fill="#b32d4b" transform="rotate(165 4.2 15.6)"/><ellipse cx="12.2" cy="-2.5" rx="1.1" ry="1.9" fill="#b32d4b" transform="rotate(439 12.2 -2.5)"/><ellipse cx="-7.9" cy="-3.9" rx="1.1" ry="1.9" fill="#b32d4b" transform="rotate(296 -7.9 -3.9)"/><ellipse cx="-11.9" cy="-2.7" rx="1.1" ry="1.9" fill="#b32d4b" transform="rotate(283 -11.9 -2.7)"/><ellipse cx="-5.4" cy="-4.2" rx="1.1" ry="1.9" fill="#b32d4b" transform="rotate(308 -5.4 -4.2)"/><ellipse cx="12.1" cy="-2.4" rx="1.1" ry="1.9" fill="#b32d4b" transform="rotate(439 12.1 -2.4)"/><ellipse cx="-12.6" cy="9.1" rx="1.1" ry="1.9" fill="#b32d4b" transform="rotate(234 -12.6 9.1)"/><ellipse cx="-11.1" cy="-4.6" rx="1.1" ry="1.9" fill="#b32d4b" transform="rotate(293 -11.1 -4.6)"/><ellipse cx="-2.6" cy="-6.8" rx="1.1" ry="1.9" fill="#b32d4b" transform="rotate(339 -2.6 -6.8)"/><ellipse cx="-10.9" cy="-2.7" rx="1.1" ry="1.9" fill="#b32d4b" transform="rotate(284 -10.9 -2.7)"/><ellipse cx="16.3" cy="-4.5" rx="1.1" ry="1.9" fill="#b32d4b" transform="rotate(434 16.3 -4.5)"/><ellipse cx="-1.4" cy="11.8" rx="1.1" ry="1.9" fill="#b32d4b" transform="rotate(187 -1.4 11.8)"/></g>
<g stroke="#d9dadf" stroke-width=".8" fill="none"><path d="M246 368L262 352M246 368L270 360M246 368L274 366M246 368L268 376M246 368L256 350M246 368L262 382"/></g>
<circle cx="262" cy="352" r="1.5" fill="#c2415a"/>
<circle cx="270" cy="360" r="1.5" fill="#c2415a"/>
<circle cx="275" cy="366" r="1.5" fill="#c2415a"/>
<circle cx="268" cy="377" r="1.5" fill="#c2415a"/>
<circle cx="256" cy="349" r="1.5" fill="#c2415a"/>
<circle cx="263" cy="383" r="1.5" fill="#c2415a"/>
<circle cx="250" cy="354" r="1.5" fill="#c2415a"/>
<circle cx="276" cy="372" r="1.5" fill="#c2415a"/>
<g transform="translate(244 368)"><path d="M0 0C6.3 -1.5 11.2 -16.5 7.6 -25.5C5.0 -32.4 -4.5 -33.0 -7.6 -24.6C-11.2 -15.0 -6.3 -1.5 0 0Z" fill="url(#pg)" stroke="#cbc6c6" stroke-width=".5" transform="rotate(-18)"/><path d="M0 0C7.0 -1.4 12.5 -15.4 8.5 -23.8C5.5 -30.2 -5.0 -30.8 -8.5 -23.0C-12.5 -14.0 -7.0 -1.4 0 0Z" fill="url(#pg)" stroke="#cbc6c6" stroke-width=".5" transform="rotate(-100)"/><path d="M0 0C7.0 -1.3 12.5 -14.3 8.5 -22.1C5.5 -28.1 -5.0 -28.6 -8.5 -21.3C-12.5 -13.0 -7.0 -1.3 0 0Z" fill="url(#pg)" stroke="#cbc6c6" stroke-width=".5" transform="rotate(150)"/></g>
<g transform="translate(258 398)"><path d="M0 0C6.3 -0.9 11.2 -9.9 7.6 -15.3C5.0 -19.4 -4.5 -19.8 -7.6 -14.8C-11.2 -9.0 -6.3 -0.9 0 0Z" fill="url(#pg)" stroke="#cbc6c6" stroke-width=".5" transform="rotate(70)"/><path d="M0 0C5.6 -0.7 10.0 -7.7 6.8 -11.9C4.4 -15.1 -4.0 -15.4 -6.8 -11.5C-10.0 -7.0 -5.6 -0.7 0 0Z" fill="url(#pg)" stroke="#cbc6c6" stroke-width=".5" transform="rotate(-60)"/></g>
<g transform="translate(287 420)"><path d="M0 0C7.7 -1.6 13.8 -17.6 9.3 -27.2C6.1 -34.6 -5.5 -35.2 -9.3 -26.2C-13.8 -16.0 -7.7 -1.6 0 0Z" fill="url(#pg)" stroke="#cbc6c6" stroke-width=".5" transform="rotate(-8)"/><path d="M0 0C7.0 -1.4 12.5 -15.4 8.5 -23.8C5.5 -30.2 -5.0 -30.8 -8.5 -23.0C-12.5 -14.0 -7.0 -1.4 0 0Z" fill="url(#pg)" stroke="#cbc6c6" stroke-width=".5" transform="rotate(-98)"/><path d="M0 0C7.7 -1.3 13.8 -14.3 9.3 -22.1C6.1 -28.1 -5.5 -28.6 -9.3 -21.3C-13.8 -13.0 -7.7 -1.3 0 0Z" fill="url(#pg)" stroke="#cbc6c6" stroke-width=".5" transform="rotate(170)"/><path d="M0 0C5.6 -0.9 10.0 -9.9 6.8 -15.3C4.4 -19.4 -4.0 -19.8 -6.8 -14.8C-10.0 -9.0 -5.6 -0.9 0 0Z" fill="url(#pg)" stroke="#cbc6c6" stroke-width=".5" transform="rotate(55)"/></g>
<ellipse cx="296" cy="409" rx="1" ry="1.8" fill="#b0284a"/>
<ellipse cx="301" cy="413" rx="1" ry="1.8" fill="#b0284a"/>
<ellipse cx="306" cy="410" rx="1" ry="1.8" fill="#b0284a"/>
<ellipse cx="311" cy="414" rx="1" ry="1.8" fill="#b0284a"/>
<ellipse cx="297" cy="420" rx="1" ry="1.8" fill="#b0284a"/>
<ellipse cx="302" cy="424" rx="1" ry="1.8" fill="#b0284a"/>
<ellipse cx="307" cy="420" rx="1" ry="1.8" fill="#b0284a"/>
<ellipse cx="295" cy="430" rx="1" ry="1.8" fill="#b0284a"/>
<ellipse cx="300" cy="433" rx="1" ry="1.8" fill="#b0284a"/>
<ellipse cx="305" cy="430" rx="1" ry="1.8" fill="#b0284a"/>
<ellipse cx="298" cy="437" rx="1" ry="1.8" fill="#b0284a"/>
<ellipse cx="292" cy="434" rx="1" ry="1.8" fill="#b0284a"/>
<path d="M23 513C30 504 38 497 48 490C58 483 68 477 79 471C90 465 100 461 108 459.5C116 460 124 463 132 466C138 468 143 471 146 474C146 482 145 490 143 496C134 500 122 503 110 506C96 509 82 512 68 514C54 516 38 516 23 513Z" fill="#d3e1b2"/>
<path d="M24.5 511.5C31 503 39 496 49 489C59 482 69 476 80 470C90 465 100 461 108 459.5C116 460 124 463 131 466C136 468 140 470 143 473L136 477L128 478L122 482L114 483L108 487L100 488L94 492L86 493L80 497L72 498L66 502L58 503L52 506L44 507L38 510L32 510Z" fill="#1f5a2b"/>
<path d="M40 500C60 488 84 474 108 464" stroke="#174821" stroke-width="2" fill="none"/>
<ellipse cx="156" cy="477" rx="10.5" ry="13" fill="#dcc2cc"/>
<ellipse cx="155" cy="471" rx="9" ry="7.5" fill="#d3d6dd"/>
<ellipse cx="156" cy="484" rx="8" ry="5" fill="#d6a3b3" opacity=".8"/>
<g transform="translate(0 490) scale(0.14525)">
<path d="M0 290L110 285L60 370L0 420Z" fill="#b8a06a" stroke="#8e7848" stroke-width="6"/>
<path d="M0 300L90 296" stroke="#d8c592" stroke-width="14" fill="none"/>
<path d="M20 400C70 470 50 600 0 690" stroke="#8e7848" stroke-width="52" fill="none" stroke-linecap="round"/>
<path d="M20 400C70 470 50 600 0 690" stroke="#b8a06a" stroke-width="44" fill="none" stroke-linecap="round"/>
<path d="M20 400C70 470 50 600 0 690" stroke="#d8c592" stroke-width="13" fill="none" stroke-linecap="round" transform="translate(-4 -5)"/>
<path d="M135 275C190 330 190 420 130 510" stroke="#8e7848" stroke-width="48" fill="none" stroke-linecap="round"/>
<path d="M135 275C190 330 190 420 130 510" stroke="#b8a06a" stroke-width="40" fill="none" stroke-linecap="round"/>
<path d="M135 275C190 330 190 420 130 510" stroke="#d8c592" stroke-width="12" fill="none" stroke-linecap="round" transform="translate(-4 -5)"/>
<path d="M0 730C60 690 120 620 165 540" stroke="#8e7848" stroke-width="78" fill="none" stroke-linecap="round"/>
<path d="M0 730C60 690 120 620 165 540" stroke="#b8a06a" stroke-width="70" fill="none" stroke-linecap="round"/>
<path d="M0 730C60 690 120 620 165 540" stroke="#d8c592" stroke-width="21" fill="none" stroke-linecap="round" transform="translate(-4 -5)"/>
<path d="M0 690C50 650 90 600 130 540" stroke="#8e7848" stroke-width="38" fill="none" stroke-linecap="round"/>
<path d="M0 690C50 650 90 600 130 540" stroke="#b8a06a" stroke-width="30" fill="none" stroke-linecap="round"/>
<path d="M0 690C50 650 90 600 130 540" stroke="#d8c592" stroke-width="9" fill="none" stroke-linecap="round" transform="translate(-4 -5)"/>
<path d="M170 520C220 430 250 330 290 225" stroke="#8e7848" stroke-width="68" fill="none" stroke-linecap="round"/>
<path d="M170 520C220 430 250 330 290 225" stroke="#b8a06a" stroke-width="60" fill="none" stroke-linecap="round"/>
<path d="M170 520C220 430 250 330 290 225" stroke="#d8c592" stroke-width="18" fill="none" stroke-linecap="round" transform="translate(-4 -5)"/>
<path d="M215 530C265 440 300 350 335 250" stroke="#8e7848" stroke-width="58" fill="none" stroke-linecap="round"/>
<path d="M215 530C265 440 300 350 335 250" stroke="#b8a06a" stroke-width="50" fill="none" stroke-linecap="round"/>
<path d="M215 530C265 440 300 350 335 250" stroke="#d8c592" stroke-width="15" fill="none" stroke-linecap="round" transform="translate(-4 -5)"/>
<path d="M150 500C190 420 215 330 245 240" stroke="#8e7848" stroke-width="38" fill="none" stroke-linecap="round"/>
<path d="M150 500C190 420 215 330 245 240" stroke="#b8a06a" stroke-width="30" fill="none" stroke-linecap="round"/>
<path d="M150 500C190 420 215 330 245 240" stroke="#d8c592" stroke-width="9" fill="none" stroke-linecap="round" transform="translate(-4 -5)"/>
<path d="M300 215C380 185 470 190 555 232" stroke="#8e7848" stroke-width="52" fill="none" stroke-linecap="round"/>
<path d="M300 215C380 185 470 190 555 232" stroke="#b8a06a" stroke-width="44" fill="none" stroke-linecap="round"/>
<path d="M300 215C380 185 470 190 555 232" stroke="#d8c592" stroke-width="13" fill="none" stroke-linecap="round" transform="translate(-4 -5)"/>
<path d="M340 265C400 235 470 235 540 250" stroke="#8e7848" stroke-width="38" fill="none" stroke-linecap="round"/>
<path d="M340 265C400 235 470 235 540 250" stroke="#b8a06a" stroke-width="30" fill="none" stroke-linecap="round"/>
<path d="M340 265C400 235 470 235 540 250" stroke="#d8c592" stroke-width="9" fill="none" stroke-linecap="round" transform="translate(-4 -5)"/>
<path d="M525 170C600 150 680 170 700 235C710 290 690 340 665 358" stroke="#8e7848" stroke-width="52" fill="none" stroke-linecap="round"/>
<path d="M525 170C600 150 680 170 700 235C710 290 690 340 665 358" stroke="#b8a06a" stroke-width="44" fill="none" stroke-linecap="round"/>
<path d="M525 170C600 150 680 170 700 235C710 290 690 340 665 358" stroke="#d8c592" stroke-width="13" fill="none" stroke-linecap="round" transform="translate(-4 -5)"/>
<path d="M440 292C490 300 540 305 580 312" stroke="#8e7848" stroke-width="32" fill="none" stroke-linecap="round"/>
<path d="M440 292C490 300 540 305 580 312" stroke="#b8a06a" stroke-width="24" fill="none" stroke-linecap="round"/>
<path d="M430 395C460 400 480 400 505 402" stroke="#8e7848" stroke-width="30" fill="none" stroke-linecap="round"/>
<path d="M430 395C460 400 480 400 505 402" stroke="#b8a06a" stroke-width="22" fill="none" stroke-linecap="round"/>
<path d="M290 525C350 520 420 540 468 572" stroke="#8e7848" stroke-width="38" fill="none" stroke-linecap="round"/>
<path d="M290 525C350 520 420 540 468 572" stroke="#b8a06a" stroke-width="30" fill="none" stroke-linecap="round"/>
<path d="M290 525C350 520 420 540 468 572" stroke="#d8c592" stroke-width="9" fill="none" stroke-linecap="round" transform="translate(-4 -5)"/>
<path d="M285 612C310 616 335 618 350 622" stroke="#8e7848" stroke-width="30" fill="none" stroke-linecap="round"/>
<path d="M285 612C310 616 335 618 350 622" stroke="#b8a06a" stroke-width="22" fill="none" stroke-linecap="round"/>
<path d="M0 770C80 700 240 690 330 790" stroke="#8e7848" stroke-width="48" fill="none" stroke-linecap="round"/>
<path d="M0 770C80 700 240 690 330 790" stroke="#b8a06a" stroke-width="40" fill="none" stroke-linecap="round"/>
<path d="M0 770C80 700 240 690 330 790" stroke="#d8c592" stroke-width="12" fill="none" stroke-linecap="round" transform="translate(-4 -5)"/>
<path d="M0 805C60 760 140 755 195 782" stroke="#8e7848" stroke-width="40" fill="none" stroke-linecap="round"/>
<path d="M0 805C60 760 140 755 195 782" stroke="#b8a06a" stroke-width="32" fill="none" stroke-linecap="round"/>
<path d="M0 805C60 760 140 755 195 782" stroke="#d8c592" stroke-width="10" fill="none" stroke-linecap="round" transform="translate(-4 -5)"/>
<path d="M0 830C40 800 90 798 125 816" stroke="#8e7848" stroke-width="36" fill="none" stroke-linecap="round"/>
<path d="M0 830C40 800 90 798 125 816" stroke="#b8a06a" stroke-width="28" fill="none" stroke-linecap="round"/>
<path d="M0 830C40 800 90 798 125 816" stroke="#d8c592" stroke-width="8" fill="none" stroke-linecap="round" transform="translate(-4 -5)"/>
<path d="M0 852C20 840 40 842 55 856" stroke="#8e7848" stroke-width="32" fill="none" stroke-linecap="round"/>
<path d="M0 852C20 840 40 842 55 856" stroke="#b8a06a" stroke-width="24" fill="none" stroke-linecap="round"/>
<path d="M0 852C20 840 40 842 55 856" stroke="#d8c592" stroke-width="7" fill="none" stroke-linecap="round" transform="translate(-4 -5)"/>
<path d="M10 720C80 690 160 672 240 672" stroke="#8e7848" stroke-width="38" fill="none" stroke-linecap="round"/>
<path d="M10 720C80 690 160 672 240 672" stroke="#b8a06a" stroke-width="30" fill="none" stroke-linecap="round"/>
<path d="M10 720C80 690 160 672 240 672" stroke="#d8c592" stroke-width="9" fill="none" stroke-linecap="round" transform="translate(-4 -5)"/>
<g transform="translate(400 392) rotate(-105)"><path d="M0 0C29 -33.0 81 -33.0 116 0C81 33.0 29 33.0 0 0Z" fill="#8e7848"/><path d="M4 0C29 -29.0 81 -29.0 112 0C81 29.0 29 29.0 4 0Z" fill="#b8a06a"/><path d="M10 -3C35 -19.333333333333332 75 -19.333333333333332 104 -2" stroke="#d8c592" stroke-width="6" fill="none" stroke-linecap="round"/></g>
<g transform="translate(405 392) rotate(-76)"><path d="M0 0C28 -33.0 77 -33.0 110 0C77 33.0 28 33.0 0 0Z" fill="#8e7848"/><path d="M4 0C28 -29.0 77 -29.0 106 0C77 29.0 28 29.0 4 0Z" fill="#b8a06a"/><path d="M10 -3C33 -19.333333333333332 72 -19.333333333333332 98 -2" stroke="#d8c592" stroke-width="6" fill="none" stroke-linecap="round"/></g>
<g transform="translate(392 400) rotate(75)"><path d="M0 0C29 -33.0 81 -33.0 116 0C81 33.0 29 33.0 0 0Z" fill="#8e7848"/><path d="M4 0C29 -29.0 81 -29.0 112 0C81 29.0 29 29.0 4 0Z" fill="#b8a06a"/><path d="M10 -3C35 -19.333333333333332 75 -19.333333333333332 104 -2" stroke="#d8c592" stroke-width="6" fill="none" stroke-linecap="round"/></g>
<g transform="translate(392 410) rotate(151)"><path d="M0 0C31 -33.0 88 -33.0 125 0C88 33.0 31 33.0 0 0Z" fill="#8e7848"/><path d="M4 0C31 -29.0 88 -29.0 121 0C88 29.0 31 29.0 4 0Z" fill="#b8a06a"/><path d="M10 -3C38 -19.333333333333332 81 -19.333333333333332 113 -2" stroke="#d8c592" stroke-width="6" fill="none" stroke-linecap="round"/></g>
<g transform="translate(500 402) rotate(-45)"><path d="M0 0C29 -33.0 81 -33.0 116 0C81 33.0 29 33.0 0 0Z" fill="#8e7848"/><path d="M4 0C29 -29.0 81 -29.0 112 0C81 29.0 29 29.0 4 0Z" fill="#b8a06a"/><path d="M10 -3C35 -19.333333333333332 75 -19.333333333333332 104 -2" stroke="#d8c592" stroke-width="6" fill="none" stroke-linecap="round"/></g>
<g transform="translate(540 410) rotate(21)"><path d="M0 0C25 -33.0 69 -33.0 99 0C69 33.0 25 33.0 0 0Z" fill="#8e7848"/><path d="M4 0C25 -29.0 69 -29.0 95 0C69 29.0 25 29.0 4 0Z" fill="#b8a06a"/><path d="M10 -3C30 -19.333333333333332 64 -19.333333333333332 87 -2" stroke="#d8c592" stroke-width="6" fill="none" stroke-linecap="round"/></g>
<g transform="translate(510 420) rotate(56)"><path d="M0 0C25 -33.0 70 -33.0 99 0C70 33.0 25 33.0 0 0Z" fill="#8e7848"/><path d="M4 0C25 -29.0 70 -29.0 95 0C70 29.0 25 29.0 4 0Z" fill="#b8a06a"/><path d="M10 -3C30 -19.333333333333332 65 -19.333333333333332 87 -2" stroke="#d8c592" stroke-width="6" fill="none" stroke-linecap="round"/></g>
<g transform="translate(215 560) rotate(-103)"><path d="M0 0C28 -33.0 79 -33.0 113 0C79 33.0 28 33.0 0 0Z" fill="#8e7848"/><path d="M4 0C28 -29.0 79 -29.0 109 0C79 29.0 28 29.0 4 0Z" fill="#b8a06a"/><path d="M10 -3C34 -19.333333333333332 73 -19.333333333333332 101 -2" stroke="#d8c592" stroke-width="6" fill="none" stroke-linecap="round"/></g>
<g transform="translate(215 560) rotate(-161)"><path d="M0 0C25 -33.0 70 -33.0 100 0C70 33.0 25 33.0 0 0Z" fill="#8e7848"/><path d="M4 0C25 -29.0 70 -29.0 96 0C70 29.0 25 29.0 4 0Z" fill="#b8a06a"/><path d="M10 -3C30 -19.333333333333332 65 -19.333333333333332 88 -2" stroke="#d8c592" stroke-width="6" fill="none" stroke-linecap="round"/></g>
<g transform="translate(225 556) rotate(-26)"><path d="M0 0C21 -33.0 58 -33.0 83 0C58 33.0 21 33.0 0 0Z" fill="#8e7848"/><path d="M4 0C21 -29.0 58 -29.0 79 0C58 29.0 21 29.0 4 0Z" fill="#b8a06a"/><path d="M10 -3C25 -19.333333333333332 54 -19.333333333333332 71 -2" stroke="#d8c592" stroke-width="6" fill="none" stroke-linecap="round"/></g>
<g transform="translate(225 580) rotate(70)"><path d="M0 0C27 -33.0 76 -33.0 109 0C76 33.0 27 33.0 0 0Z" fill="#8e7848"/><path d="M4 0C27 -29.0 76 -29.0 105 0C76 29.0 27 29.0 4 0Z" fill="#b8a06a"/><path d="M10 -3C33 -19.333333333333332 71 -19.333333333333332 97 -2" stroke="#d8c592" stroke-width="6" fill="none" stroke-linecap="round"/></g>
<g transform="translate(210 580) rotate(131)"><path d="M0 0C24 -33.0 67 -33.0 95 0C67 33.0 24 33.0 0 0Z" fill="#8e7848"/><path d="M4 0C24 -29.0 67 -29.0 91 0C67 29.0 24 29.0 4 0Z" fill="#b8a06a"/><path d="M10 -3C29 -19.333333333333332 62 -19.333333333333332 83 -2" stroke="#d8c592" stroke-width="6" fill="none" stroke-linecap="round"/></g>
<g transform="translate(340 612) rotate(-25)"><path d="M0 0C25 -33.0 71 -33.0 101 0C71 33.0 25 33.0 0 0Z" fill="#8e7848"/><path d="M4 0C25 -29.0 71 -29.0 97 0C71 29.0 25 29.0 4 0Z" fill="#b8a06a"/><path d="M10 -3C30 -19.333333333333332 66 -19.333333333333332 89 -2" stroke="#d8c592" stroke-width="6" fill="none" stroke-linecap="round"/></g>
<g transform="translate(350 630) rotate(61)"><path d="M0 0C26 -33.0 74 -33.0 106 0C74 33.0 26 33.0 0 0Z" fill="#8e7848"/><path d="M4 0C26 -29.0 74 -29.0 102 0C74 29.0 26 29.0 4 0Z" fill="#b8a06a"/><path d="M10 -3C32 -19.333333333333332 69 -19.333333333333332 94 -2" stroke="#d8c592" stroke-width="6" fill="none" stroke-linecap="round"/></g>
<g transform="translate(400 650) rotate(41)"><path d="M0 0C24 -33.0 67 -33.0 95 0C67 33.0 24 33.0 0 0Z" fill="#8e7848"/><path d="M4 0C24 -29.0 67 -29.0 91 0C67 29.0 24 29.0 4 0Z" fill="#b8a06a"/><path d="M10 -3C29 -19.333333333333332 62 -19.333333333333332 83 -2" stroke="#d8c592" stroke-width="6" fill="none" stroke-linecap="round"/></g>
</g>
<circle cx="288.4" cy="75.1" r="53.4" fill="none" stroke="#f0a05e" stroke-width="1.5"/>
<text class="t b" x="288.4" y="78.3" textLength="60.5" lengthAdjust="spacingAndGlyphs" text-anchor="middle" fill="#ffffff" font-weight="700">The Revolution</text>
<path d="M342.0 75.1H349.0M349.0 75.1V60.0Q349.0 54.0 355.0 54.0H357.0M349.0 75.1V90.0Q349.0 96.0 355.0 96.0H357.0" stroke="#e3c165" stroke-width="1.5" fill="none" stroke-linecap="round"/>
<text class="t" x="361.0" y="57.2" textLength="45.5" lengthAdjust="spacingAndGlyphs" fill="#ffffff">Sing for me</text>
<text class="t" x="361.0" y="99.2" textLength="53.5" lengthAdjust="spacingAndGlyphs" fill="#ffffff">Coin-cidence</text>
<path d="M410.5 54.0L425.5 54.0" stroke="#e3c165" stroke-width="1.5" fill="none"/>
<path d="M418.5 96.0L434.0 96.0" stroke="#e3c165" stroke-width="1.5" fill="none"/>
<text class="t" x="430.0" y="47.2" textLength="158.0" lengthAdjust="spacingAndGlyphs" fill="#ffffff">Dorran will use song to send a message</text>
<text class="t" x="430.0" y="56.8" textLength="158.0" lengthAdjust="spacingAndGlyphs" fill="#ffffff">while becoming an invisible voice of the</text>
<text class="t" x="430.0" y="66.4" textLength="40.0" lengthAdjust="spacingAndGlyphs" fill="#ffffff">revolution</text>
<text class="t" x="437.5" y="89.6" textLength="165.5" lengthAdjust="spacingAndGlyphs" fill="#ffffff">Mori records the information conveyed by</text>
<text class="t" x="437.5" y="99.2" textLength="170.0" lengthAdjust="spacingAndGlyphs" fill="#ffffff">the coins and informs the person by way of</text>
<text class="t" x="437.5" y="108.8" textLength="31.5" lengthAdjust="spacingAndGlyphs" fill="#ffffff">change.</text>
<path d="M482.3 706V160.5Q482.3 154 488.8 154H498.5" stroke="#f0a05e" stroke-width="1.8" fill="none"/>
<path d="M482.3 229.0Q482.3 222.5 488.8 222.5H498.5" stroke="#f0a05e" stroke-width="1.8" fill="none"/>
<path d="M482.3 289.5Q482.3 283 488.8 283H498.5" stroke="#f0a05e" stroke-width="1.8" fill="none"/>
<path d="M482.3 443.7Q482.3 437.2 488.8 437.2H498.5" stroke="#f0a05e" stroke-width="1.8" fill="none"/>
<path d="M482.3 532.0Q482.3 525.5 488.8 525.5H498.5" stroke="#f0a05e" stroke-width="1.8" fill="none"/>
<path d="M482.3 598.2Q482.3 591.7 488.8 591.7H498.5" stroke="#f0a05e" stroke-width="1.8" fill="none"/>
<path d="M482.3 664.2Q482.3 657.7 488.8 657.7H498.5" stroke="#f0a05e" stroke-width="1.8" fill="none"/>
<text class="t" x="501.8" y="157.2" textLength="21.0" lengthAdjust="spacingAndGlyphs" fill="#ffffff">Day 1</text>
<text class="t" x="501.8" y="225.7" textLength="21.7" lengthAdjust="spacingAndGlyphs" fill="#ffffff">Day 2</text>
<text class="t" x="501.8" y="286.2" textLength="21.7" lengthAdjust="spacingAndGlyphs" fill="#ffffff">Day 3</text>
<text class="t" x="501.8" y="440.4" textLength="22.0" lengthAdjust="spacingAndGlyphs" fill="#ffffff">Day 4</text>
<text class="t" x="501.8" y="528.7" textLength="22.0" lengthAdjust="spacingAndGlyphs" fill="#ffffff">Day 5</text>
<text class="t" x="501.8" y="594.9" textLength="22.0" lengthAdjust="spacingAndGlyphs" fill="#ffffff">Day 6</text>
<text class="t" x="501.8" y="660.9" textLength="21.7" lengthAdjust="spacingAndGlyphs" fill="#ffffff">Day 7</text>
<path d="M529.0 154.0H535.8M535.8 154.0V146.3Q535.8 140.3 541.8 140.3H545.5M535.8 154.0V162.5Q535.8 168.5 541.8 168.5H545.5" stroke="#f0a05e" stroke-width="1.5" fill="none" stroke-linecap="round"/>
<text class="t" x="548.6" y="143.5" textLength="110.0" lengthAdjust="spacingAndGlyphs" fill="#ffffff">A stupid Game/Chatty Fans</text>
<text class="t" x="548.6" y="166.4" textLength="175.5" lengthAdjust="spacingAndGlyphs" fill="#ffffff" style="white-space:pre">Mr Adams want to travel around  (Tutorial for</text>
<text class="t" x="548.6" y="176.0" textLength="42.5" lengthAdjust="spacingAndGlyphs" fill="#ffffff">Beginners)</text>
<path d="M527.7 222.5H534.6M534.6 222.5V211.5Q534.6 205.5 540.6 205.5H543.6M534.6 222.5V233.7Q534.6 239.7 540.6 239.7H543.6" stroke="#f0a05e" stroke-width="1.5" fill="none" stroke-linecap="round"/>
<text class="t" x="546.9" y="208.7" textLength="21.8" lengthAdjust="spacingAndGlyphs" fill="#ffffff">News</text>
<path d="M572.8 205.5H579.8M579.8 205.5V200.7Q579.8 194.7 585.8 194.7H589.0M579.8 205.5V211.0Q579.8 217.0 585.8 217.0H589.0" stroke="#f0a05e" stroke-width="1.5" fill="none" stroke-linecap="round"/>
<text class="t" x="592.3" y="197.9" textLength="58.3" lengthAdjust="spacingAndGlyphs" fill="#ffffff">Search notices</text>
<text class="t" x="592.3" y="220.2" textLength="61.7" lengthAdjust="spacingAndGlyphs" fill="#ffffff">New Pets Wave</text>
<text class="t" x="546.9" y="242.9" textLength="59.2" lengthAdjust="spacingAndGlyphs" fill="#ffffff">The Revolution</text>
<path d="M527.7 283.0H534.6M534.6 283.0V266.4Q534.6 260.4 540.6 260.4H543.6M534.6 283.0H543.6M534.6 283.0V318.2Q534.6 324.2 540.6 324.2H543.6" stroke="#f0a05e" stroke-width="1.5" fill="none" stroke-linecap="round"/>
<text class="t" x="546.9" y="263.6" textLength="58.3" lengthAdjust="spacingAndGlyphs" fill="#ffffff">Sales Manager</text>
<text class="t" x="546.9" y="286.2" textLength="84.2" lengthAdjust="spacingAndGlyphs" fill="#ffffff">Nobles and Inventors</text>
<text class="t" x="546.9" y="327.4" textLength="60.2" lengthAdjust="spacingAndGlyphs" fill="#ffffff">Ticketing Rules</text>
<path d="M611.8 324.2H618.8M618.8 324.2V316.3Q618.8 310.3 624.8 310.3H628.0M618.8 324.2V331.5Q618.8 337.5 624.8 337.5H628.0" stroke="#f0a05e" stroke-width="1.5" fill="none" stroke-linecap="round"/>
<text class="t" x="631.3" y="308.6" textLength="174.2" lengthAdjust="spacingAndGlyphs" fill="#ffffff">Keep teens out of cemeteries and restricted</text>
<text class="t" x="631.3" y="318.2" textLength="21.5" lengthAdjust="spacingAndGlyphs" fill="#ffffff">areas</text>
<text class="t" x="631.3" y="340.9" textLength="75.5" lengthAdjust="spacingAndGlyphs" fill="#ffffff">Try to sell products</text>
<path d="M527.7 437.2H534.8M534.8 437.2V392.8Q534.8 386.8 540.8 386.8H543.8M534.8 437.2H543.8M534.8 437.2V453.3Q534.8 459.3 540.8 459.3H543.8M534.8 437.2V476.0Q534.8 482.0 540.8 482.0H543.8" stroke="#f0a05e" stroke-width="1.5" fill="none" stroke-linecap="round"/>
<text class="t" x="547.5" y="390.0" textLength="60.2" lengthAdjust="spacingAndGlyphs" fill="#ffffff">Ticketing Rules</text>
<path d="M612.4 386.8H619.4M619.4 386.8V365.5Q619.4 359.5 625.4 359.5H628.5M619.4 386.8H628.5M619.4 386.8V408.7Q619.4 414.7 625.4 414.7H628.5" stroke="#f0a05e" stroke-width="1.5" fill="none" stroke-linecap="round"/>
<text class="t" x="631.6" y="362.7" textLength="80.8" lengthAdjust="spacingAndGlyphs" fill="#ffffff">Distribute brochures</text>
<text class="t" x="631.6" y="385.1" textLength="170.0" lengthAdjust="spacingAndGlyphs" fill="#ffffff">If you see someone suspicious, don&#x27;t alarm</text>
<text class="t" x="631.6" y="394.7" textLength="66.6" lengthAdjust="spacingAndGlyphs" fill="#ffffff">him. Call for help</text>
<text class="t" x="631.6" y="417.9" textLength="114.8" lengthAdjust="spacingAndGlyphs" fill="#ffffff">Look for suspicious vampires</text>
<text class="t" x="547.5" y="440.4" textLength="36.5" lengthAdjust="spacingAndGlyphs" fill="#ffffff">The killer</text>
<text class="t" x="547.5" y="462.5" textLength="37.0" lengthAdjust="spacingAndGlyphs" fill="#ffffff">Vampires</text>
<text class="t" x="547.5" y="485.2" textLength="21.8" lengthAdjust="spacingAndGlyphs" fill="#ffffff">News</text>
<path d="M573.7 482.0L589.5 482.0" stroke="#f0a05e" stroke-width="1.5" fill="none"/>
<text class="t" x="592.9" y="485.2" textLength="61.0" lengthAdjust="spacingAndGlyphs" fill="#ffffff">Strange Plague</text>
<path d="M527.7 525.5H534.6M534.6 525.5V509.0Q534.6 503.0 540.6 503.0H543.6M534.6 525.5H543.6M534.6 525.5V542.1Q534.6 548.1 540.6 548.1H543.6" stroke="#f0a05e" stroke-width="1.5" fill="none" stroke-linecap="round"/>
<text class="t" x="546.9" y="506.2" textLength="58.3" lengthAdjust="spacingAndGlyphs" fill="#ffffff">Sales Manager</text>
<text class="t" x="546.9" y="528.7" textLength="86.6" lengthAdjust="spacingAndGlyphs" fill="#ffffff">A Girl who&#x27;s Run Away</text>
<text class="t" x="546.9" y="551.3" textLength="104.0" lengthAdjust="spacingAndGlyphs" fill="#ffffff">Coming-of-age Ceremony</text>
<path d="M527.7 591.7H534.8M534.8 591.7V575.3Q534.8 569.3 540.8 569.3H543.8M534.8 591.7H543.8M534.8 591.7V608.3Q534.8 614.3 540.8 614.3H543.8" stroke="#f0a05e" stroke-width="1.5" fill="none" stroke-linecap="round"/>
<text class="t" x="547.5" y="572.5" textLength="21.8" lengthAdjust="spacingAndGlyphs" fill="#ffffff">News</text>
<path d="M573.7 569.3L589.5 569.3" stroke="#f0a05e" stroke-width="1.5" fill="none"/>
<text class="t" x="592.9" y="572.5" textLength="168.8" lengthAdjust="spacingAndGlyphs" fill="#ffffff">Volcano&#x27;s impending eruption is fake news</text>
<text class="t" x="547.5" y="594.9" textLength="60.2" lengthAdjust="spacingAndGlyphs" fill="#ffffff">Ticketing Rules</text>
<path d="M612.4 591.7L628.5 591.7" stroke="#f0a05e" stroke-width="1.5" fill="none"/>
<text class="t" x="631.6" y="594.9" textLength="77.2" lengthAdjust="spacingAndGlyphs" fill="#ffffff">Peak tourist season</text>
<text class="t" x="547.5" y="617.5" textLength="140.2" lengthAdjust="spacingAndGlyphs" fill="#ffffff">restore a little sanity/Missing Sister</text>
<path d="M527.7 657.7H534.6M534.6 657.7V641.2Q534.6 635.2 540.6 635.2H543.6M534.6 657.7H543.6M534.6 657.7V674.0Q534.6 680.0 540.6 680.0H543.6" stroke="#f0a05e" stroke-width="1.5" fill="none" stroke-linecap="round"/>
<text class="t" x="546.9" y="638.4" textLength="21.8" lengthAdjust="spacingAndGlyphs" fill="#ffffff">News</text>
<path d="M572.8 635.2L589.0 635.2" stroke="#f0a05e" stroke-width="1.5" fill="none"/>
<text class="t" x="592.3" y="638.4" textLength="87.8" lengthAdjust="spacingAndGlyphs" fill="#ffffff">Exchange rate soaring</text>
<text class="t" x="546.9" y="660.9" textLength="60.2" lengthAdjust="spacingAndGlyphs" fill="#ffffff">Ticketing Rules</text>
<path d="M611.8 657.7L628.0 657.7" stroke="#f0a05e" stroke-width="1.5" fill="none"/>
<text class="t" x="630.8" y="660.9" textLength="71.0" lengthAdjust="spacingAndGlyphs" fill="#ffffff">Auditor is coming.</text>
<text class="t" x="546.9" y="683.2" textLength="58.3" lengthAdjust="spacingAndGlyphs" fill="#ffffff">Sales Manager</text>
<text class="h" x="234.9" y="781.2" textLength="99.0" lengthAdjust="spacingAndGlyphs" fill="#e8c566" font-size="18">Story Spine</text>
<path d="M351.8 775.0L413.0 775.0" stroke="#f0a05e" stroke-width="2" fill="none"/>
<path d="M552.0 775.0L613.0 775.0" stroke="#de886d" stroke-width="1.9" fill="none"/>
<path d="M735.0 775.0L873.0 775.0" stroke="#b0765e" stroke-width="1.9" fill="none"/>
<circle cx="482.3" cy="775.1" r="70" fill="#f4a261"/>
<circle cx="674.5" cy="775.1" r="61.5" fill="#de8871"/>
<circle cx="911.4" cy="774.9" r="39.1" fill="#a4715c"/>
<text class="c" x="482.4" y="771.5" textLength="63.0" lengthAdjust="spacingAndGlyphs" text-anchor="middle" fill="#4f2610" font-size="9.5" stroke="#4f2610">CHAPTER ONE</text>
<text class="c" x="482.4" y="785.2" textLength="76.0" lengthAdjust="spacingAndGlyphs" text-anchor="middle" fill="#4f2610" font-size="9.5" stroke="#4f2610">UNDERCURRENTS</text>
<text class="c" x="674.2" y="771.5" textLength="64.0" lengthAdjust="spacingAndGlyphs" text-anchor="middle" fill="#4a2015" font-size="9.5" stroke="#4a2015">CHAPTER TWO</text>
<text class="c" x="674.2" y="785.1" textLength="47.0" lengthAdjust="spacingAndGlyphs" text-anchor="middle" fill="#4a2015" font-size="9.5" stroke="#4a2015">THE BIRDS</text>
<text class="c" x="911.3" y="777.8" textLength="33.0" lengthAdjust="spacingAndGlyphs" text-anchor="middle" fill="#ffffff" font-size="9.5" stroke="#ffffff">ENDING</text>
<path d="M674.5 837V919.1Q674.5 925.6 681.0 925.6H690" stroke="#de886d" stroke-width="1.8" fill="none"/>
<path d="M674.5 865.5Q674.5 872.0 681.0 872.0H690" stroke="#de886d" stroke-width="1.8" fill="none"/>
<path d="M674.5 898.5Q674.5 905.0 681.0 905.0H690" stroke="#de886d" stroke-width="1.8" fill="none"/>
<text class="t" x="693.5" y="875.2" textLength="22.3" lengthAdjust="spacingAndGlyphs" fill="#ffffff">Day 8</text>
<text class="t" x="693.5" y="908.2" textLength="22.3" lengthAdjust="spacingAndGlyphs" fill="#ffffff">Day 9</text>
<text class="t" x="693.5" y="928.8" textLength="26.3" lengthAdjust="spacingAndGlyphs" fill="#ffffff">Day 10</text>
<path d="M720.4 872.0H727.2M727.2 872.0V867.0Q727.2 861.0 733.2 861.0H736.0M727.2 872.0V877.8Q727.2 883.8 733.2 883.8H736.0" stroke="#de886d" stroke-width="1.5" fill="none" stroke-linecap="round"/>
<text class="t" x="739.3" y="864.2" textLength="86.6" lengthAdjust="spacingAndGlyphs" fill="#ffffff">A Girl who&#x27;s Run Away</text>
<text class="t" x="739.3" y="887.0" textLength="37.2" lengthAdjust="spacingAndGlyphs" fill="#ffffff">The Killer</text>
<path d="M720.4 905.0L735.5 905.0" stroke="#de886d" stroke-width="1.5" fill="none"/>
<text class="t" x="739.3" y="908.2" textLength="140.2" lengthAdjust="spacingAndGlyphs" fill="#ffffff">restore a little sanity/Missing Sister</text>
<path d="M724.4 925.6L739.5 925.6" stroke="#de886d" stroke-width="1.5" fill="none"/>
<text class="t" x="743.3" y="928.8" textLength="37.0" lengthAdjust="spacingAndGlyphs" fill="#ffffff">Vampires</text>
<path d="M911.5 736V573.3Q911.5 566.8 918.0 566.8H927.7" stroke="#a3705c" stroke-width="1.8" fill="none"/>
<path d="M911.5 672.8Q911.5 666.3 918.0 666.3H927.7" stroke="#a3705c" stroke-width="1.8" fill="none"/>
<text class="t" x="930.8" y="570.0" textLength="55.4" lengthAdjust="spacingAndGlyphs" fill="#ffffff">Happy Ending</text>
<text class="t" x="930.8" y="669.5" textLength="45.6" lengthAdjust="spacingAndGlyphs" fill="#ffffff">Bad Ending</text>
<path d="M990.2 566.8H997.4M997.4 566.8V538.7Q997.4 532.7 1003.4 532.7H1006.4M997.4 566.8V561.6Q997.4 555.6 1003.4 555.6H1006.4M997.4 566.8V571.8Q997.4 577.8 1003.4 577.8H1006.4M997.4 566.8V594.2Q997.4 600.2 1003.4 600.2H1006.4" stroke="#a3705c" stroke-width="1.5" fill="none" stroke-linecap="round"/>
<text class="t" x="1009.5" y="535.9" textLength="44.2" lengthAdjust="spacingAndGlyphs" fill="#ffffff">Homeward</text>
<text class="t" x="1009.5" y="558.8" textLength="60.4" lengthAdjust="spacingAndGlyphs" fill="#ffffff">Maiden voyage</text>
<text class="t" x="1009.5" y="581.0" textLength="58.5" lengthAdjust="spacingAndGlyphs" fill="#ffffff">Happy hunting</text>
<text class="t" x="1009.5" y="603.4" textLength="69.7" lengthAdjust="spacingAndGlyphs" fill="#ffffff">New Government</text>
<path d="M980.7 666.3H987.6M987.6 666.3V627.4Q987.6 621.4 993.6 621.4H996.9M987.6 666.3V650.1Q987.6 644.1 993.6 644.1H996.9M987.6 666.3H996.9M987.6 666.3V682.7Q987.6 688.7 993.6 688.7H996.9M987.6 666.3V705.1Q987.6 711.1 993.6 711.1H996.9" stroke="#a3705c" stroke-width="1.5" fill="none" stroke-linecap="round"/>
<text class="t" x="1000.0" y="624.6" textLength="88.5" lengthAdjust="spacingAndGlyphs" fill="#ffffff">Until Death Do Us Part</text>
<text class="t" x="1000.0" y="647.3" textLength="76.1" lengthAdjust="spacingAndGlyphs" fill="#ffffff">New Government 2</text>
<text class="t" x="1000.0" y="669.5" textLength="76.1" lengthAdjust="spacingAndGlyphs" fill="#ffffff">New Government 3</text>
<text class="t" x="1000.0" y="691.9" textLength="35.1" lengthAdjust="spacingAndGlyphs" fill="#ffffff">As Usual</text>
<text class="t" x="1000.0" y="714.3" textLength="71.3" lengthAdjust="spacingAndGlyphs" fill="#ffffff">Come back Home</text>
<circle cx="981.3" cy="356.6" r="50.3" fill="none" stroke="#f0a05e" stroke-width="1.5"/>
<text class="t b" x="981.2" y="359.8" textLength="56.0" lengthAdjust="spacingAndGlyphs" text-anchor="middle" fill="#ffffff" font-weight="700">Main storyline</text>
<path d="M1031.8 356.5H1039.1M1039.1 356.5V333.3Q1039.1 327.3 1045.1 327.3H1047.5M1039.1 356.5V379.5Q1039.1 385.5 1045.1 385.5H1047.5" stroke="#e3c165" stroke-width="1.5" fill="none" stroke-linecap="round"/>
<text class="t" x="1051.5" y="330.5" textLength="80.2" lengthAdjust="spacingAndGlyphs" fill="#ffffff">restore a little sanity</text>
<text class="t" x="1051.5" y="388.7" textLength="53.9" lengthAdjust="spacingAndGlyphs" fill="#ffffff">Missing Sister</text>
<path d="M1135.7 327.3L1151.3 327.3" stroke="#e3c165" stroke-width="1.5" fill="none"/>
<path d="M1109.7 385.5L1125.7 385.5" stroke="#e3c165" stroke-width="1.5" fill="none"/>
<text class="t" x="1155.3" y="310.0" textLength="174.2" lengthAdjust="spacingAndGlyphs" fill="#ffffff">With her parents&#x27; search for them closing in,</text>
<text class="t" x="1155.3" y="319.7" textLength="172.2" lengthAdjust="spacingAndGlyphs" fill="#ffffff">and her sister seemingly caught up in some</text>
<text class="t" x="1155.3" y="329.5" textLength="165.5" lengthAdjust="spacingAndGlyphs" fill="#ffffff">kind of political frenzy, will Mori be able to</text>
<text class="t" x="1155.3" y="339.2" textLength="166.3" lengthAdjust="spacingAndGlyphs" fill="#ffffff">bring her back to her senses and find their</text>
<text class="t" x="1155.3" y="349.0" textLength="43.3" lengthAdjust="spacingAndGlyphs" fill="#ffffff">Homeward</text>
<text class="t" x="1129.0" y="373.5" textLength="175.8" lengthAdjust="spacingAndGlyphs" fill="#ffffff">Dorran has been unable to find Mori for days</text>
<text class="t" x="1129.0" y="383.1" textLength="179.1" lengthAdjust="spacingAndGlyphs" fill="#ffffff">on end, where has she gone. With martial law</text>
<text class="t" x="1129.0" y="392.8" textLength="170.8" lengthAdjust="spacingAndGlyphs" fill="#ffffff">operations intensifying in the city, she must</text>
<text class="t" x="1129.0" y="402.4" textLength="36.0" lengthAdjust="spacingAndGlyphs" fill="#ffffff">find Mori.</text>
</svg>
</body>
</html>
